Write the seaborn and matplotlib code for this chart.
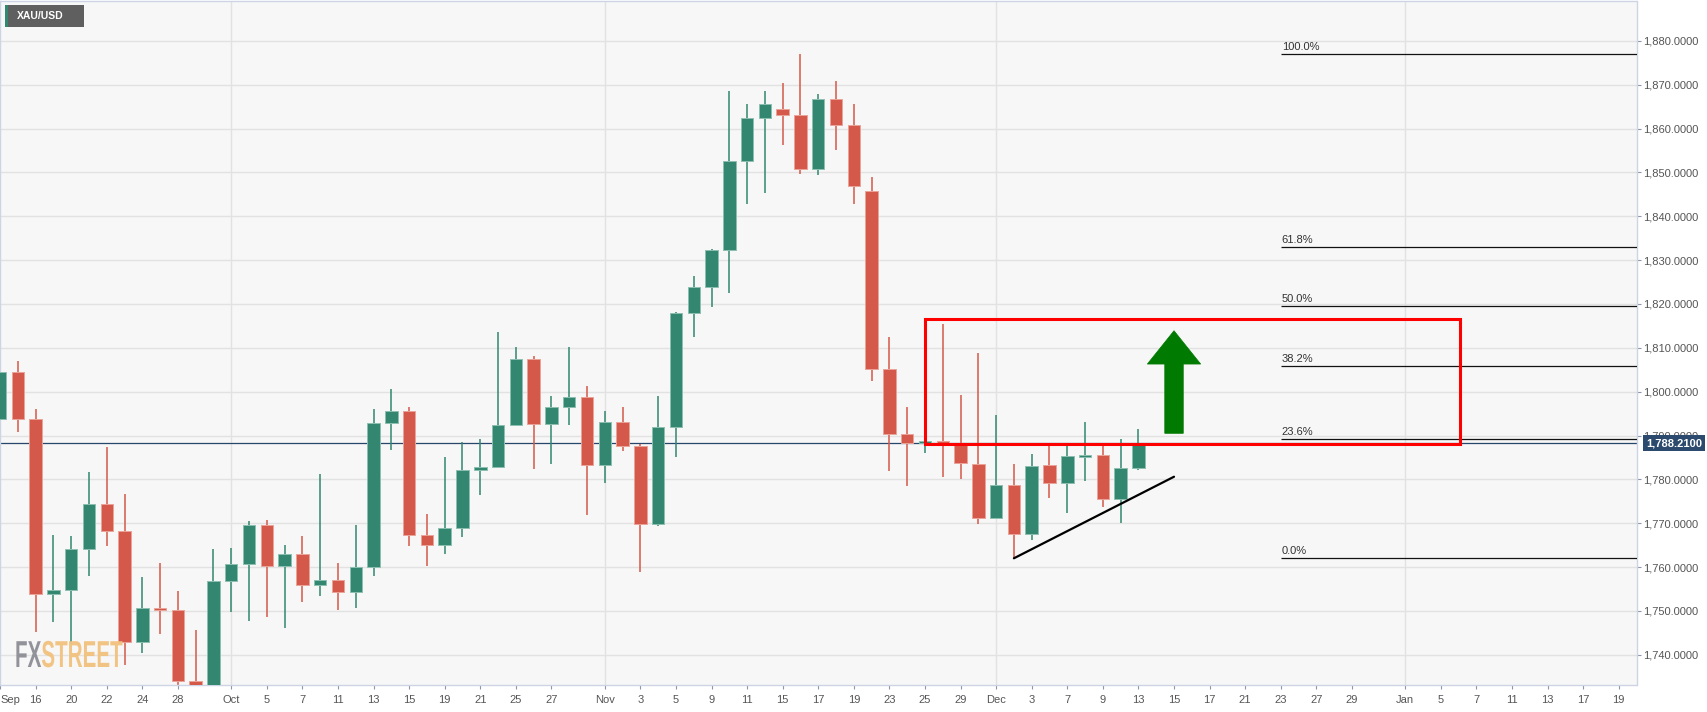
import numpy as np
import pandas as pd
import matplotlib
matplotlib.use("Agg")
import matplotlib.pyplot as plt
import matplotlib.transforms as mtransforms
from matplotlib import patheffects
from matplotlib.patches import Rectangle, Polygon
import seaborn as sns

# ---------------- data ----------------
dates = ["Sep 14", "Sep 15", "Sep 16", "Sep 17", "Sep 20", "Sep 21", "Sep 22", "Sep 23", "Sep 24",
         "Sep 27", "Sep 28", "Sep 29", "Sep 30", "Oct 1", "Oct 4", "Oct 5", "Oct 6", "Oct 7", "Oct 8",
         "Oct 11", "Oct 12", "Oct 13", "Oct 14", "Oct 15", "Oct 18", "Oct 19", "Oct 20", "Oct 21",
         "Oct 22", "Oct 25", "Oct 26", "Oct 27", "Oct 28", "Oct 29", "Nov 1", "Nov 2", "Nov 3", "Nov 4",
         "Nov 5", "Nov 8", "Nov 9", "Nov 10", "Nov 11", "Nov 12", "Nov 15", "Nov 16", "Nov 17",
         "Nov 18", "Nov 19", "Nov 22", "Nov 23", "Nov 24", "Nov 25", "Nov 26", "Nov 29", "Nov 30",
         "Dec 1", "Dec 2", "Dec 3", "Dec 6", "Dec 7", "Dec 8", "Dec 9", "Dec 10", "Dec 13"]

opens = [1793.8, 1804.4, 1793.8, 1753.8, 1754.8, 1764.1, 1774.4, 1768.2, 1742.9,
         1750.7, 1750.2, 1734.1, 1726.0, 1756.9, 1760.8, 1769.5, 1760.2, 1762.9, 1755.8,
         1757.1, 1754.2, 1760.0, 1792.8, 1795.7, 1767.2, 1765.1, 1769.0, 1782.1,
         1782.9, 1792.4, 1807.5, 1792.7, 1796.6, 1798.8, 1783.3, 1793.1, 1787.7, 1769.8,
         1792.0, 1817.9, 1823.8, 1832.2, 1852.5, 1862.4, 1864.5, 1863.1, 1850.7,
         1866.8, 1860.9, 1845.7, 1805.2, 1790.3, 1788.4, 1788.8, 1788.2, 1783.5,
         1771.1, 1778.6, 1767.6, 1783.3, 1779.1, 1785.1, 1785.6, 1775.5, 1782.7]
highs = [1808.5, 1807.0, 1796.1, 1767.4, 1767.0, 1781.7, 1787.3, 1776.7, 1757.7,
         1761.0, 1754.5, 1745.6, 1764.1, 1764.3, 1770.5, 1770.7, 1765.1, 1767.0, 1781.3,
         1761.0, 1769.5, 1796.1, 1800.6, 1796.4, 1772.0, 1785.1, 1788.6, 1789.3,
         1813.7, 1810.1, 1808.2, 1798.9, 1810.3, 1801.3, 1795.7, 1796.5, 1788.1, 1798.9,
         1818.2, 1826.4, 1832.5, 1868.6, 1865.7, 1868.6, 1870.3, 1876.9, 1867.9,
         1870.9, 1865.7, 1849.0, 1812.4, 1796.4, 1789.0, 1815.5, 1799.2, 1808.8,
         1794.7, 1783.5, 1785.7, 1788.1, 1788.1, 1793.0, 1787.5, 1789.3, 1791.4]
lows = [1780.8, 1790.7, 1745.3, 1747.4, 1742.4, 1757.9, 1764.8, 1737.7, 1740.5,
        1744.8, 1726.5, 1722.8, 1721.7, 1749.8, 1747.8, 1748.6, 1746.0, 1752.0, 1753.4,
        1750.1, 1750.7, 1757.9, 1786.6, 1764.8, 1760.2, 1763.0, 1766.9, 1776.5,
        1782.7, 1792.4, 1782.4, 1783.4, 1792.3, 1771.8, 1779.1, 1786.4, 1758.9, 1769.3,
        1785.1, 1812.4, 1819.2, 1822.5, 1842.9, 1845.2, 1856.2, 1849.6, 1849.4,
        1855.2, 1842.9, 1802.5, 1782.0, 1778.6, 1786.0, 1780.6, 1780.1, 1769.8,
        1771.1, 1762.0, 1766.2, 1775.7, 1772.4, 1779.6, 1773.6, 1770.1, 1782.1]
closes = [1804.4, 1793.8, 1753.8, 1754.8, 1764.1, 1774.4, 1768.2, 1742.9, 1750.7,
          1750.2, 1734.1, 1726.0, 1756.9, 1760.8, 1769.5, 1760.2, 1762.9, 1755.8, 1757.1,
          1754.2, 1760.0, 1792.8, 1795.7, 1767.2, 1765.1, 1769.0, 1782.1, 1782.9,
          1792.4, 1807.5, 1792.7, 1796.6, 1798.8, 1783.3, 1793.1, 1787.7, 1769.8, 1792.0,
          1817.9, 1823.8, 1832.2, 1852.5, 1862.4, 1865.5, 1863.1, 1850.7, 1866.8,
          1860.9, 1847.0, 1805.2, 1790.3, 1788.4, 1788.8, 1788.2, 1783.7, 1771.1,
          1778.6, 1767.6, 1783.0, 1779.1, 1785.4, 1785.6, 1775.5, 1782.7, 1788.21]

# x-axis (trading-day slots, incl. future slots up to Jan 19)
tick_pos = [0, 2, 4, 6, 8, 10, 13, 15, 17, 19, 21, 23, 25, 27, 29, 31, 34, 36, 38, 40, 42, 44,
            46, 48, 50, 52, 54, 56, 58, 60, 62, 64, 66, 68, 70, 72, 74, 76, 79, 81, 83, 85, 87,
            89, 91]
tick_labels = ["Sep", "16", "20", "22", "24", "28", "Oct", "5", "7", "11", "13", "15", "19", "21",
               "25", "27", "Nov", "3", "5", "9", "11", "15", "17", "19", "23", "25", "29", "Dec",
               "3", "7", "9", "13", "15", "17", "21", "23", "27", "29", "Jan", "5", "7", "11",
               "13", "17", "19"]
month_starts = [13, 34, 56, 79]
y_ticks = list(range(1740, 1890, 10))

last_price = 1788.21
fib_high = 1877.0
fib_low = 1762.0
fib_ratios = [0.0, 0.236, 0.382, 0.5, 0.618, 1.0]
fib_labels = ["0.0%", "23.6%", "38.2%", "50.0%", "61.8%", "100.0%"]
fib_start = 72

zone_start, zone_end = 52.0, 82.05
zone_low, zone_high = 1788.1, 1816.6

trend_x = [57, 66]
trend_y = [1762.0, 1780.6]

arrow_x = 66
arrow_base, arrow_neck, arrow_tip = 1790.5, 1806.3, 1813.9

# ---------------- style ----------------
sns.set_theme(style="white")
plt.rcParams["font.family"] = ["Liberation Sans", "DejaVu Sans"]

GREEN = "#338670"
RED = "#d5594a"
GREEN_EDGE = "#8cc0b0"
RED_EDGE = "#eaa399"

W, H = 1707, 712
fig = plt.figure(figsize=(W / 100, H / 100), dpi=100)
fig.patch.set_facecolor("white")
ax = fig.add_axes([0, 27 / H, 1636.5 / W, 684 / H])
ax.set_facecolor("#f7f7f7")

df = pd.DataFrame({"date": dates, "open": opens, "high": highs, "low": lows, "close": closes})
df["x"] = np.arange(len(df))
df["up"] = df["close"] >= df["open"]
df["bottom"] = df[["open", "close"]].min(axis=1)
df["height"] = (df["close"] - df["open"]).abs().clip(lower=0.3)
face = np.where(df["up"], GREEN, RED)
edge = np.where(df["up"], GREEN_EDGE, RED_EDGE)

# grid
for y in y_ticks:
    ax.axhline(y, color="#e2e2e2", lw=1.0, zorder=0)
for m in month_starts:
    ax.axvline(m, color="#e2e2e2", lw=1.0, zorder=0)

# current price line
ax.axhline(last_price, color="#27466b", lw=0.9, zorder=1.5)

# candles
ax.vlines(df["x"], df["low"], df["high"], colors=face, lw=1.1, zorder=2)
ax.bar(df["x"], df["height"], bottom=df["bottom"], width=0.7, color=face,
       edgecolor=edge, linewidth=0.7, zorder=3)

# fibonacci retracement
for r, lab in zip(fib_ratios, fib_labels):
    lvl = fib_low + r * (fib_high - fib_low)
    ax.hlines(lvl, fib_start, 93, color="#111111", lw=0.9, zorder=3)
    ax.annotate(lab, xy=(fib_start + 0.05, lvl), xytext=(0, 1.5), textcoords="offset points",
                ha="left", va="bottom", fontsize=8, color="#333333", zorder=3)

# trend line
sns.lineplot(x=trend_x, y=trend_y, ax=ax, color="black", lw=1.6, zorder=4)

# resistance zone
ax.add_patch(Rectangle((zone_start, zone_low), zone_end - zone_start, zone_high - zone_low,
                       fill=False, ec="#ff0000", lw=2.2, zorder=5))

# up arrow
shaft_hw, head_hw = 0.52, 1.5
arrow_pts = [(arrow_x - shaft_hw, arrow_base), (arrow_x + shaft_hw, arrow_base),
             (arrow_x + shaft_hw, arrow_neck), (arrow_x + head_hw, arrow_neck),
             (arrow_x, arrow_tip), (arrow_x - head_hw, arrow_neck),
             (arrow_x - shaft_hw, arrow_neck)]
ax.add_patch(Polygon(arrow_pts, closed=True, fc="#007a00", ec="#007a00", lw=0.5, zorder=5))

# axes
ax.set_xlim(0, 92.0)
ax.set_ylim(1733.1, 1889.1)
ax.yaxis.tick_right()
ax.set_yticks(y_ticks)
ax.set_yticklabels([f"{v:,.4f}" for v in y_ticks])
ax.set_xticks(tick_pos)
ax.set_xticklabels(tick_labels)
ax.get_xticklabels()[0].set_ha("left")
ax.tick_params(axis="y", which="both", right=True, left=False, length=3, width=0.8,
               color="#8c96ac", labelsize=8, labelcolor="#555555", pad=2)
ax.tick_params(axis="x", which="both", bottom=True, length=3, width=0.8,
               color="#8c96ac", labelsize=8, labelcolor="#555555", pad=4)
ax.grid(False)
for s in ax.spines.values():
    s.set_color("#cdd4e4")
    s.set_linewidth(1.0)
ax.set_xlabel("")
ax.set_ylabel("")

# last price tag
tag_tr = mtransforms.blended_transform_factory(ax.transAxes, ax.transData)
ax.annotate(f"{last_price:,.4f}", xy=(1.0, last_price), xycoords=tag_tr,
            xytext=(7, 0), textcoords="offset points", ha="left", va="center",
            fontsize=8, fontweight="bold", color="white", zorder=10, annotation_clip=False,
            bbox=dict(boxstyle="square,pad=0.28", fc="#2b4a6e", ec="none"))

# symbol tag top-left
fig.patches.append(Rectangle((5 / W, 1 - 27 / H), 79 / W, 22 / H, transform=fig.transFigure,
                             fc="#5f5f5f", ec="none", zorder=10))
fig.patches.append(Rectangle((5 / W, 1 - 27 / H), 2.5 / W, 22 / H, transform=fig.transFigure,
                             fc="#338670", ec="none", zorder=11))
fig.text(17 / W, 1 - 16 / H, "XAU/USD", ha="left", va="center", fontsize=7.5,
         fontweight="bold", color="white", zorder=12)


# watermark: real text, horizontally condensed via a path effect
class Squeeze(patheffects.AbstractPathEffect):
    def __init__(self, sx, x0):
        super().__init__()
        self.sx, self.x0 = sx, x0

    def draw_path(self, renderer, gc, tpath, affine, rgbFace=None):
        sq = mtransforms.Affine2D().translate(-self.x0, 0).scale(self.sx, 1).translate(self.x0, 0)
        renderer.draw_path(gc, tpath, affine + sq, rgbFace)


wm_x0 = 15
wm_fx = [Squeeze(0.55, wm_x0)]
fx = fig.text(wm_x0 / W, 1 - 667 / H, "FX", ha="left", va="baseline", fontsize=27,
              fontweight="bold", color="#8d8d95", alpha=0.95, zorder=12, path_effects=wm_fx)
street = matplotlib.text.Annotation("STREET", xy=(1.0, 0.0), xycoords=fx, xytext=(0, 0),
                                    textcoords="offset points", ha="left", va="bottom",
                                    fontsize=27, fontweight="bold", color="#f2c27e",
                                    alpha=0.95, path_effects=wm_fx)
street.set_zorder(12)
fig.add_artist(street)

fig.savefig("out.png", dpi=100, facecolor="white")
